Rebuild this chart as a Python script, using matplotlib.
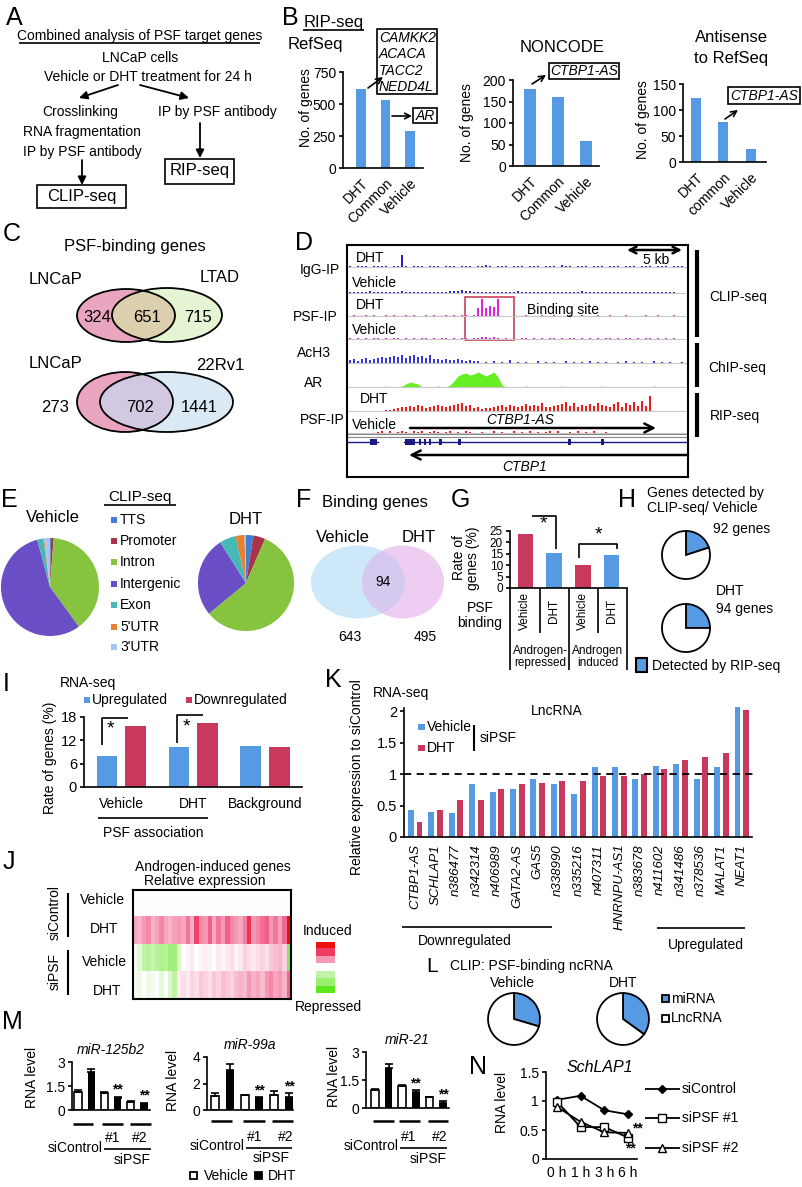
import numpy as np
import matplotlib
matplotlib.use("Agg")
import matplotlib.pyplot as plt
from matplotlib.patches import Ellipse, Rectangle
from matplotlib.colors import LinearSegmentedColormap
from matplotlib.transforms import blended_transform_factory

# ---------------- data ----------------
B_refseq_cats = ["DHT", "Common", "Vehicle"]
B_refseq_vals = [620, 530, 290]
B_noncode_cats = ["DHT", "Common", "Vehicle"]
B_noncode_vals = [180, 160, 57]
B_anti_cats = ["DHT", "common", "Vehicle"]
B_anti_vals = [124, 77, 25]
B_refseq_genes = ["CAMKK2", "ACACA", "TACC2", "NEDD4L"]

C_sets1 = ["LNCaP", "LTAD"]
C_counts1 = [324, 651, 715]
C_sets2 = ["LNCaP", "22Rv1"]
C_counts2 = [273, 702, 1441]

# genome browser tracks (bar heights, base-36 digits, one per 4-px bin)
D_igg_dht = "1011101111011c1011101110111011101121011101110111011102110111011101110111011101110111"
D_igg_veh = "1111121111111211111111111222322111111111112111111111111111211111111111111111111111"
D_psf_dht = "01001010010100101001010010101101" + "8h8a9h" + "0001001000100100010010001001000100001001000100100"
D_psf_veh = "1010101101011010101101011010110112212101010110101011010110101010110101101011010101"
D_ach3 = "3424534565676857867584" + "43433432322" + "010201030101002010100201010201010010201010020101001020"
D_ar = "00000000010001" + "3543" + "0000100" + "26bdecdfdbdfa20" + "000010000000010000000001000000000000100000000"
D_rip_dht = "000000000112" + "3445465345654567" + "8563423345646545" + "7565844567958465" + "7586547948695a5f" + "00000000"
D_rip_veh = "0000000120201210212012101201021001002010020102010120200102010200100000000000000000"
D_exons = [(370, 7), (405, 10), (419, 2), (424, 2), (429, 2), (439, 3), (458, 3), (568, 3), (601, 3)]

E_cats = ["TTS", "Promoter", "Intron", "Intergenic", "Exon", "5'UTR", "3'UTR"]
E_colors = ["#3f7fd8", "#a93349", "#86c440", "#6a4ec6", "#45b8b8", "#e6812e", "#a6c8ee"]
E_vehicle = [0.3, 0.9, 38.8, 55.8, 2.0, 0.3, 1.9]
E_dht = [2.5, 4.0, 57.5, 27.0, 5.5, 3.0, 0.5]

F_counts = [643, 94, 495]

G_labels = ["Vehicle", "DHT", "Vehicle", "DHT"]
G_groups = ["Androgen-\nrepressed", "Androgen\ninduced"]
G_values = [23.7, 15.5, 10.0, 14.3]

H_vehicle = [20, 80]
H_dht = [25, 75]

I_groups = ["Vehicle", "DHT", "Background"]
I_up = [8.0, 10.2, 10.6]
I_down = [15.8, 16.5, 10.2]

J_rows = ["Vehicle", "DHT", "Vehicle", "DHT"]
J_ctrl_veh = [0.0] * 36
J_ctrl_dht = [0.40, 0.35, 0.45, 0.50, 0.35, 0.42, 0.50, 0.40, 0.35, 0.42, 0.45, 0.40,
              0.55, 0.38, 0.72, 0.50, 0.45, 0.62, 0.40, 0.55, 0.45, 0.62, 0.50, 0.45,
              0.40, 0.52, 0.80, 0.45, 0.50, 0.58, 0.62, 0.45, 0.55, 0.42, 0.60, 1.00]
J_psf_veh = [-0.05, -0.15, -0.35, -0.40, -0.30, -0.40, -0.45, -0.40, -0.55, -0.55, -0.20, 0.00,
             0.05, 0.10, 0.00, 0.05, 0.08, 0.05, 0.00, 0.10, 0.05, 0.10, 0.15, 0.05,
             0.10, 0.20, 0.15, 0.10, 0.15, 0.20, 0.15, 0.25, 0.30, 0.35, 0.20, -0.75]
J_psf_dht = [-0.05, -0.10, 0.00, -0.10, -0.05, 0.00, -0.15, 0.00, -0.20, -0.35, 0.10, 0.15,
             0.10, 0.20, 0.15, 0.25, 0.20, 0.15, 0.25, 0.20, 0.30, 0.25, 0.20, 0.30,
             0.35, 0.30, 0.45, 0.35, 0.40, 0.30, 0.45, 0.50, 0.40, 0.45, 0.35, 0.60]
J_legend = [1.0, 0.75, 0.45, 0.0, -0.35, -0.6, -1.0]

K_genes = ["CTBP1-AS", "SCHLAP1", "n386477", "n342314", "n406989", "GATA2-AS", "GAS5",
           "n338990", "n335216", "n407311", "HNRNPU-AS1", "n383678", "n411602",
           "n341486", "n378536", "MALAT1", "NEAT1"]
K_vehicle = [0.43, 0.40, 0.38, 0.84, 0.72, 0.77, 0.92, 0.84, 0.68, 1.11, 1.11, 0.92, 1.13,
             1.16, 0.92, 1.11, 2.07]
K_dht = [0.24, 0.43, 0.59, 0.59, 0.77, 0.84, 0.86, 0.89, 0.89, 0.97, 0.97, 1.00, 1.08,
         1.22, 1.27, 1.33, 2.02]

L_vehicle = [29.6, 70.4]
L_dht = [35.0, 65.0]

M_titles = ["miR-125b2", "miR-99a", "miR-21"]
M_veh = [[1.10, 1.05, 0.50], [1.05, 1.10, 1.10], [0.95, 1.20, 0.57]]
M_veh_err = [[0.12, 0.10, 0.06], [0.20, 0.03, 0.30], [0.05, 0.05, 0.04]]
M_dht = [[2.40, 0.75, 0.40], [3.05, 0.90, 1.00], [2.15, 0.85, 0.25]]
M_dht_err = [[0.15, 0.08, 0.06], [0.40, 0.08, 0.25], [0.20, 0.10, 0.10]]

N_times = ["0 h", "1 h", "3 h", "6 h"]
N_ctrl = [1.02, 1.09, 0.84, 0.77]
N_psf1 = [0.99, 0.55, 0.55, 0.37]
N_psf2 = [0.90, 0.64, 0.46, 0.45]

BLUE = "#559ae3"
RED = "#c9395d"

# ---------------- setup ----------------
plt.rcParams["font.family"] = ["Liberation Sans", "DejaVu Sans"]
plt.rcParams["font.size"] = 10
plt.rcParams["axes.linewidth"] = 1.2
plt.rcParams["xtick.major.width"] = 1.2
plt.rcParams["ytick.major.width"] = 1.2
plt.rcParams["ytick.major.size"] = 3
plt.rcParams["xtick.major.size"] = 0
plt.rcParams["ytick.major.pad"] = 2

W, H = 802, 1187
fig = plt.figure(figsize=(W / 100, H / 100), dpi=100)


def pax(x0, y0, x1, y1, **kw):
    return fig.add_axes([x0 / W, 1 - y1 / H, (x1 - x0) / W, (y1 - y0) / H], **kw)


ov = fig.add_axes([0, 0, 1, 1], zorder=20)
ov.set_xlim(0, W)
ov.set_ylim(H, 0)
ov.axis("off")


def T(x, y, s, size=10, ha="center", va="center", **kw):
    return ov.text(x, y, s, fontsize=size, ha=ha, va=va, **kw)


def LN(xs, ys, lw=1.2, color="k", **kw):
    ov.plot(xs, ys, color=color, lw=lw, solid_capstyle="butt", **kw)


def ARW(x0, y0, x1, y1, style="-|>", lw=1.3, ms=10, color="k"):
    ov.annotate("", xy=(x1, y1), xytext=(x0, y0),
                arrowprops=dict(arrowstyle=style, lw=lw, color=color,
                                mutation_scale=ms, shrinkA=0, shrinkB=0))


def BOX(x0, y0, x1, y1, lw=1.2, fc=None, ec="k"):
    ov.add_patch(Rectangle((x0, y0), x1 - x0, y1 - y0, fill=fc is not None,
                           facecolor=fc if fc else "none", edgecolor=ec, lw=lw))


def clean(ax):
    ax.spines["top"].set_visible(False)
    ax.spines["right"].set_visible(False)


# ---------------- A ----------------
T(14, 18, "A", size=18)
T(140, 36, "Combined analysis of PSF target genes")
LN([19, 260], [43, 43])
T(140, 58, "LNCaP cells")
T(148, 77, "Vehicle or DHT treatment for 24 h")
ARW(118, 85, 79, 98, ms=12)
ARW(140, 85, 189, 98, ms=12)
T(80, 112, "Crosslinking")
T(82, 132, "RNA fragmentation")
T(82, 152, "IP by PSF antibody")
T(217, 112, "IP by PSF antibody")
ARW(82, 160, 82, 185, ms=12)
ARW(200, 123, 200, 158, ms=12)
BOX(37, 185, 126, 208)
T(82, 197, "CLIP-seq", size=12)
BOX(165, 159, 234, 184)
T(200, 171, "RIP-seq", size=12)

# ---------------- B ----------------
T(290, 18, "B", size=18)
T(334, 22, "RIP-seq", size=12)
LN([303, 364], [30, 30])
T(315, 45, "RefSeq", size=12)


def bpanel(box, cats, vals, xlim, ylim, yticks, width):
    ax = pax(*box)
    ax.bar(np.arange(len(vals)), vals, width=width, color=BLUE)
    ax.set_xlim(*xlim)
    ax.set_ylim(*ylim)
    clean(ax)
    ax.set_xticks(np.arange(len(vals)))
    ax.set_xticklabels(cats, rotation=45, ha="right", va="top", rotation_mode="anchor", fontsize=10)
    ax.tick_params(axis="x", length=0, pad=6)
    ax.set_yticks(yticks)
    ax.tick_params(axis="y", labelsize=10)
    return ax


bpanel((343, 72, 423, 168), B_refseq_cats, B_refseq_vals, (-0.735, 2.53), (0, 750), [0, 250, 500, 750], 0.37)
T(306, 108, "No. of genes", rotation=90)
bpanel((513, 80, 599, 166), B_noncode_cats, B_noncode_vals, (-0.6, 2.47), (0, 200), [0, 50, 100, 150, 200], 0.45)
T(467, 123, "No. of genes", rotation=90)
T(562, 47, "NONCODE", size=12)
bpanel((683, 84, 766, 162), B_anti_cats, B_anti_vals, (-0.47, 2.55), (0, 150), [0, 50, 100, 150], 0.36)
T(643, 120, "No. of genes", rotation=90)
T(731, 38, "Antisense", size=12)
T(731, 59, "to RefSeq", size=12)

BOX(377, 29, 437, 94)
for i, g in enumerate(B_refseq_genes):
    T(379, 38 + 16.3 * i, g, ha="left", style="italic")
ARW(368, 88, 383, 77, style="->", lw=1.2, ms=10)
BOX(413, 108, 437, 123)
T(425, 115.5, "AR", style="italic")
ARW(392, 116, 412, 116, style="->", lw=1.2, ms=10)
BOX(549, 63, 619, 79)
T(584, 71, "CTBP1-AS", style="italic")
ARW(532, 84, 546, 75, style="->", lw=1.2, ms=10)
BOX(728, 87, 800, 104)
T(764, 95.5, "CTBP1-AS", style="italic")
ARW(725, 119, 738, 110, style="->", lw=1.2, ms=10)

# ---------------- C ----------------
T(12, 234, "C", size=18)
T(135, 247, "PSF-binding genes", size=12)


def venn(c1, w1, h1, c2, w2, h2, col1, col2, colx, outline=True):
    e1 = Ellipse(c1, w1, h1, facecolor=col1, edgecolor="none")
    e2 = Ellipse(c2, w2, h2, facecolor=col2, edgecolor="none")
    ov.add_patch(e1)
    ov.add_patch(e2)
    ex = Ellipse(c2, w2, h2, facecolor=colx, edgecolor="none")
    ov.add_patch(ex)
    ex.set_clip_path(e1)
    if outline:
        ov.add_patch(Ellipse(c1, w1, h1, fill=False, edgecolor="k", lw=1.3))
        ov.add_patch(Ellipse(c2, w2, h2, fill=False, edgecolor="k", lw=1.3))


venn((126, 315.5), 98, 53, (167, 315), 110, 54, "#e9a5bf", "#e5f4d2", "#dccfae")
T(56, 280, C_sets1[0], size=12)
T(220, 278, C_sets1[1], size=12)
T(97, 318, str(C_counts1[0]), size=12)
T(147, 318, str(C_counts1[1]), size=12)
T(198, 318, str(C_counts1[2]), size=12)

venn((125, 402), 96, 60, (166.5, 402), 133, 60, "#e9a5bf", "#dbe9f5", "#d2c8e2")
T(55, 363, C_sets2[0], size=12)
T(220, 365, C_sets2[1], size=12)
T(55, 407, str(C_counts2[0]), size=12)
T(140, 407, str(C_counts2[1]), size=12)
T(199, 407, str(C_counts2[2]), size=12)

# ---------------- D ----------------
T(304, 243, "D", size=18)
axD = pax(347, 245, 688, 477)
axD.set_xlim(347, 688)
axD.set_ylim(477, 245)
axD.set_xticks([])
axD.set_yticks([])
for s in axD.spines.values():
    s.set_linewidth(1.5)
tracks = [(D_igg_dht, 267, "#2424c8"), (D_igg_veh, 293, "#2424c8"),
          (D_psf_dht, 316, "#e022e0"), (D_psf_veh, 339, "#e022e0"),
          (D_ach3, 363, "#3434e6"), (D_rip_dht, 411, "#ee1a1a"), (D_rip_veh, 433, "#ee1a1a")]
for s, base, col in tracks:
    h = np.array([int(c, 36) for c in s[:84]], float)
    xs = 350 + 4 * np.arange(len(h))
    axD.plot([348, 687], [base, base], color="#c8c8c8", lw=0.8)
    axD.bar(xs, -h, bottom=base, width=2.6, color=col, linewidth=0)
har = np.array([int(c, 36) for c in D_ar[:84]], float)
xar = 350 + 4 * np.arange(len(har))
axD.plot([348, 687], [387, 387], color="#c8c8c8", lw=0.8)
axD.fill_between(xar, 387, 387 - har, color="#66ee22", lw=0)
axD.plot([347, 688], [434, 434], color="#888888", lw=0.8)
axD.plot([347, 688], [437, 437], color="#888888", lw=0.8)
axD.plot([347, 378], [442, 442], color="#1a1a80", lw=1)
axD.plot([404, 688], [442, 442], color="#1a1a80", lw=1)
for x0, w in D_exons:
    axD.add_patch(Rectangle((x0, 439), w, 6, color="#1a1a80", lw=0))
axD.add_patch(Rectangle((465, 297), 49, 43, fill=False, edgecolor="#c8405a", lw=1.2))
axD.text(527, 310, "Binding site", fontsize=10, ha="left", va="center")
axD.annotate("", xy=(656, 428), xytext=(410, 428),
             arrowprops=dict(arrowstyle="->", lw=1.8, color="k", mutation_scale=16, shrinkA=0, shrinkB=0))
axD.text(520, 420, "CTBP1-AS", fontsize=10, style="italic", ha="center", va="center")
axD.annotate("", xy=(409, 455), xytext=(688, 455),
             arrowprops=dict(arrowstyle="->", lw=1.8, color="k", mutation_scale=16, shrinkA=0, shrinkB=0))
axD.text(525, 467, "CTBP1", fontsize=10, style="italic", ha="center", va="center")
axD.annotate("", xy=(682, 250), xytext=(627, 250),
             arrowprops=dict(arrowstyle="<->", lw=1.8, color="k", mutation_scale=12, shrinkA=0, shrinkB=0))
axD.text(656, 260, "5 kb", fontsize=10, ha="center", va="center")
for lab, x, y in [("DHT", 356, 258), ("Vehicle", 352, 283), ("DHT", 356, 305), ("Vehicle", 352, 330),
                  ("DHT", 360, 399), ("Vehicle", 352, 425)]:
    axD.text(x, y, lab, fontsize=10, ha="left", va="center")
for lab, x, y in [("IgG-IP", 320, 270), ("PSF-IP", 315, 317), ("AcH3", 314, 353), ("AR", 314, 383),
                  ("PSF-IP", 322, 420)]:
    T(x, y, lab)
LN([697, 697], [250, 337], lw=3)
LN([697, 697], [343, 387], lw=3)
LN([697, 697], [393, 437], lw=3)
T(709, 297, "CLIP-seq", ha="left")
T(708, 368, "ChIP-seq", ha="left")
T(710, 416, "RIP-seq", ha="left")

# ---------------- E ----------------
T(9, 500, "E", size=18)


def pie(box, vals, colors, edge="none", lw=0, lim=1.02):
    ax = pax(*box)
    ax.pie(vals, colors=colors, startangle=90, counterclock=False,
           wedgeprops=dict(edgecolor=edge, linewidth=lw))
    ax.set_xlim(-lim, lim)
    ax.set_ylim(-lim, lim)
    return ax


pie((0, 537, 100, 637), E_vehicle, E_colors)
pie((197, 534, 295, 632), E_dht, E_colors)
T(53, 518, "Vehicle", size=12)
T(246, 520, "DHT", size=12)
T(140, 497, "CLIP-seq", size=11)
LN([104, 176], [505, 505])
for i, (c, col) in enumerate(zip(E_cats, E_colors)):
    y = [520, 541, 562, 584, 605, 627, 647][i]
    ov.add_patch(Rectangle((111, y - 3), 6, 6, color=col, lw=0))
    T(120, y, c, ha="left")

# ---------------- F ----------------
T(304, 500, "F", size=18)
T(322, 503, "Binding genes", size=12, ha="left")
venn((358, 582), 94, 73, (403, 582), 82, 73, "#cde8f8", "#edcdf1", "#d6c9ef", outline=False)
T(343, 537, "Vehicle", size=12)
T(419, 537, "DHT", size=12)
T(383, 582, str(F_counts[1]))
T(350, 637, str(F_counts[0]))
T(425, 637, str(F_counts[2]))

# ---------------- G ----------------
T(460, 500, "G", size=18)
axG = pax(510, 531, 627, 588)
axG.bar(np.arange(4), G_values, width=0.52, color=[RED, BLUE, RED, BLUE])
axG.set_xlim(-0.52, 3.52)
axG.set_ylim(0, 25)
clean(axG)
axG.set_xticks([])
axG.set_yticks(range(0, 26, 5))
axG.tick_params(axis="y", labelsize=8.5)
trG = blended_transform_factory(axG.transData, ov.transData)
for i, l in enumerate(G_labels):
    ov.text(i, 611, l, transform=trG, fontsize=8.5, rotation=90, ha="center", va="center")
for xx, y1 in [(510, 670), (540, 633), (569, 670), (598, 633), (627, 670)]:
    LN([xx, xx], [588, y1])
T(540, 657, G_groups[0], size=8.5, linespacing=1.0)
T(598, 657, G_groups[1], size=8.5, linespacing=1.0)
T(480, 608, "PSF")
T(480, 623, "binding")
LN([532, 556, 556], [516, 516, 549])
T(543, 524, "*", size=14)
LN([579, 579, 617, 617], [558, 544, 544, 549])
T(598, 535, "*", size=14)
T(466, 558, "Rate of\ngenes (%)", rotation=90, linespacing=0.95)

# ---------------- H ----------------
T(627, 500, "H", size=18)
T(647, 493, "Genes detected by", ha="left")
T(647, 508, "CLIP-seq/ Vehicle", ha="left")
pie((661, 530, 711, 580), H_vehicle, [BLUE, "white"], edge="k", lw=1.3, lim=1.04)
pie((661, 603, 711, 653), H_dht, [BLUE, "white"], edge="k", lw=1.3, lim=1.04)
T(713, 529, "92 genes", ha="left")
T(716, 591, "DHT", ha="left")
T(716, 609, "94 genes", ha="left")
BOX(636, 658, 647, 672, lw=1.5, fc=BLUE)
T(652, 666, "Detected by RIP-seq", ha="left")

# ---------------- I ----------------
T(6, 684, "I", size=18)
axI = pax(84, 717, 302, 787)
xi = np.arange(len(I_groups))
axI.bar(xi - 0.2, I_up, 0.29, color=BLUE)
axI.bar(xi + 0.2, I_down, 0.29, color=RED)
axI.set_xlim(-0.52, 2.51)
axI.set_ylim(0, 18)
clean(axI)
axI.set_yticks([0, 6, 12, 18])
axI.tick_params(axis="y", labelsize=10.5)
axI.set_xticks(xi)
axI.set_xticklabels(I_groups, fontsize=10)
axI.tick_params(axis="x", length=0, pad=7)
T(60, 683, "RNA-seq", ha="left")
ov.add_patch(Rectangle((84, 697), 6, 6, color=BLUE, lw=0))
T(92, 700, "Upregulated", ha="left")
ov.add_patch(Rectangle((186, 697), 6, 6, color=RED, lw=0))
T(194, 700, "Downregulated", ha="left")
T(50, 758, "Rate of genes (%)", rotation=90)
LN([102, 102, 128], [745, 718, 718])
T(110, 729, "*", size=14)
LN([177, 177, 203], [743, 715, 715])
T(186, 727, "*", size=14)
LN([98, 208], [818, 818])
T(153, 833, "PSF association")

# ---------------- J ----------------
T(9, 862, "J", size=18)
T(213, 867, "Androgen-induced genes")
T(205, 881, "Relative expression")
cmap = LinearSegmentedColormap.from_list(
    "gr", [(0.0, "#5ee61e"), (0.3, "#b8f29a"), (0.5, "#ffffff"), (0.7, "#f7a9c1"),
           (0.85, "#ef4677"), (1.0, "#ee1111")])
axJ = pax(133, 890, 291, 999)
axJ.imshow(np.array([J_ctrl_veh, J_ctrl_dht, J_psf_veh, J_psf_dht]), cmap=cmap, vmin=-1, vmax=1,
           aspect="auto", interpolation="nearest")
axJ.set_xticks([])
axJ.set_yticks([])
for s in axJ.spines.values():
    s.set_linewidth(1.5)
for lab, x, y in zip(J_rows, [102, 104, 104, 107], [900, 929, 962, 991]):
    T(x, y, lab)
T(55, 913, "siControl", rotation=90)
T(55, 972, "siPSF", rotation=90)
LN([68, 68], [893, 937], lw=1.5)
LN([68, 68], [950, 995], lw=1.5)
axJL = pax(316, 942, 335, 993)
axJL.imshow(np.array(J_legend)[:, None], cmap=cmap, vmin=-1, vmax=1, aspect="auto", interpolation="nearest")
axJL.axis("off")
T(328, 931, "Induced")
T(328, 1007, "Repressed")

# ---------------- K ----------------
T(333, 680, "K", size=18)
axK = pax(404, 708, 752, 837)
xk = np.arange(len(K_genes))
axK.bar(xk - 0.21, K_vehicle, 0.29, color=BLUE, clip_on=False)
axK.bar(xk + 0.21, K_dht, 0.29, color=RED, clip_on=False)
axK.set_xlim(-0.55, 16.5)
axK.set_ylim(0, 2.05)
axK.axhline(1, color="k", ls=(0, (4, 3)), lw=1.3, xmax=1.01, clip_on=False)
clean(axK)
axK.set_yticks([0, 0.5, 1, 1.5, 2])
axK.set_yticklabels(["0", "0.5", "1", "1.5", "2"])
axK.tick_params(axis="y", labelsize=10.5)
axK.set_xticks(xk)
axK.set_xticklabels(K_genes, rotation=90, style="italic", fontsize=9.5)
axK.tick_params(axis="x", length=0, pad=5)
T(373, 693, "RNA-seq", ha="left")
T(557, 711, "LncRNA")
ov.add_patch(Rectangle((418, 724), 7, 6, color=BLUE, lw=0))
T(427, 727, "Vehicle", ha="left")
ov.add_patch(Rectangle((418, 745), 7, 6, color=RED, lw=0))
T(427, 748, "DHT", ha="left")
LN([474, 474], [725, 751], lw=1.5)
T(480, 738, "siPSF", ha="left")
T(357, 777, "Relative expression to siControl", rotation=90)
LN([402, 552], [927, 927])
T(465, 941, "Downregulated")
LN([657, 745], [928, 928])
T(706, 945, "Upregulated")

# ---------------- L ----------------
T(432, 966, "L", size=15)
T(450, 966, "CLIP: PSF-binding ncRNA", ha="left")
T(512, 983, "Vehicle")
T(623, 983, "DHT")
pie((487, 992, 541, 1046), L_vehicle, [BLUE, "white"], edge="k", lw=1.3, lim=1.04)
pie((596, 992, 650, 1046), L_dht, [BLUE, "white"], edge="k", lw=1.3, lim=1.04)
BOX(662, 995, 669, 1002, lw=1.3, fc=BLUE)
T(671, 999, "miRNA", ha="left")
BOX(662, 1015, 669, 1022, lw=1.3, fc="white")
T(671, 1018, "LncRNA", ha="left")

# ---------------- M ----------------
T(12, 1022, "M", size=18)


def mpanel(box, title, veh, vere, dht, dere, xlim, ylim, yticks, ytl):
    ax = pax(*box)
    xv = np.arange(len(veh)) * 2
    xd = xv + 1
    ax.bar(xv, veh, 0.55, facecolor="white", edgecolor="k", lw=1.2)
    ax.bar(xd, dht, 0.55, color="k")
    ax.errorbar(xv, veh, yerr=[np.zeros(len(veh)), vere], fmt="none", ecolor="k",
                capsize=3, elinewidth=1.2, capthick=1.2)
    ax.errorbar(xd, dht, yerr=[np.zeros(len(dht)), dere], fmt="none", ecolor="k",
                capsize=3, elinewidth=1.2, capthick=1.2)
    for i in (1, 2):
        ax.text(xd[i], dht[i] + dere[i], "**", ha="center", va="bottom", fontsize=10, fontweight="bold")
    ax.set_xlim(*xlim)
    ax.set_ylim(*ylim)
    clean(ax)
    ax.set_xticks([])
    ax.set_yticks(yticks)
    ax.set_yticklabels(ytl)
    ax.tick_params(axis="y", labelsize=10)
    ax.set_title(title, style="italic", fontsize=10, pad=6)
    return ax


mpanel((72, 1062, 150, 1110), M_titles[0], M_veh[0], M_veh_err[0], M_dht[0], M_dht_err[0],
       (-0.45, 5.45), (0, 3), [0, 1.5, 3], ["0", "1.5", "3"])
mpanel((207, 1057, 293, 1110), M_titles[1], M_veh[1], M_veh_err[1], M_dht[1], M_dht_err[1],
       (-0.54, 5.27), (0, 4), [0, 2, 4], ["0", "2", "4"])
mpanel((366, 1052, 449, 1108), M_titles[2], M_veh[2], M_veh_err[2], M_dht[2], M_dht_err[2],
       (-0.66, 5.44), (0, 3), [0, 1.5, 3], ["0", "1.5", "3"])
T(32, 1077, "RNA level", rotation=90)
T(173, 1080, "RNA level", rotation=90)
T(334, 1076, "RNA level", rotation=90)
M_layout = [
    ([(73, 93), (102, 123), (130, 151)], 1124, (75, 1148), (113, 140), 1138, (104, 151), 1149, (132, 1160)),
    ([(211, 232), (243, 265), (272, 293)], 1121, (217, 1146), (255, 286), 1137, (246, 292), 1148, (271, 1158)),
    ([(373, 394), (399, 420), (428, 448)], 1121, (371, 1146), (409, 440), 1137, (400, 447), 1148, (428, 1159)),
]
for groups, yl, sc, p12, yp, ul, yul, sp in M_layout:
    for a, b in groups:
        LN([a, b], [yl, yl], lw=1.8)
    T(sc[0], sc[1], "siControl")
    T(p12[0], yp, "#1")
    T(p12[1], yp, "#2")
    LN([ul[0], ul[1]], [yul, yul])
    T(sp[0], sp[1], "siPSF")
BOX(190, 1172, 197, 1179, lw=1.3, fc="white")
T(204, 1176, "Vehicle", ha="left")
BOX(255, 1172, 262, 1179, lw=1.3, fc="k")
T(268, 1176, "DHT", ha="left")

# ---------------- N ----------------
T(478, 1067, "N", size=18)
axN = pax(546, 1072, 637, 1159)
tn = np.arange(len(N_times))
axN.plot(tn, N_ctrl, "-D", color="k", ms=4, lw=1.3)
axN.plot(tn, N_psf1, "-s", color="k", mfc="white", ms=5.5, lw=1.3)
axN.plot(tn, N_psf2, "-^", color="k", mfc="white", ms=5.5, lw=1.3)
axN.set_xlim(-0.46, 3.38)
axN.set_ylim(0, 1.5)
clean(axN)
axN.set_yticks([0, 0.5, 1, 1.5])
axN.set_yticklabels(["0", "0.5", "1", "1.5"])
axN.tick_params(axis="y", labelsize=10)
axN.set_xticks(tn)
axN.set_xticklabels(N_times, fontsize=10)
axN.tick_params(axis="x", length=0, pad=5)
T(600, 1068, "SchLAP1", style="italic", size=11.5)
T(502, 1102, "RNA level", rotation=90)
T(637, 1128, "**", fontweight="bold")
T(630, 1148, "**", fontweight="bold")
for y, mk, lab in [(1089, "D", "siControl"), (1118, "s", "siPSF #1"), (1148, "^", "siPSF #2")]:
    LN([645, 680], [y, y], lw=1.3)
    ov.plot([662], [y], marker=mk, color="k", mfc="k" if mk == "D" else "white", ms=4 if mk == "D" else 5.5)
    T(682, y, lab, ha="left")

fig.savefig("out.png", dpi=100)
